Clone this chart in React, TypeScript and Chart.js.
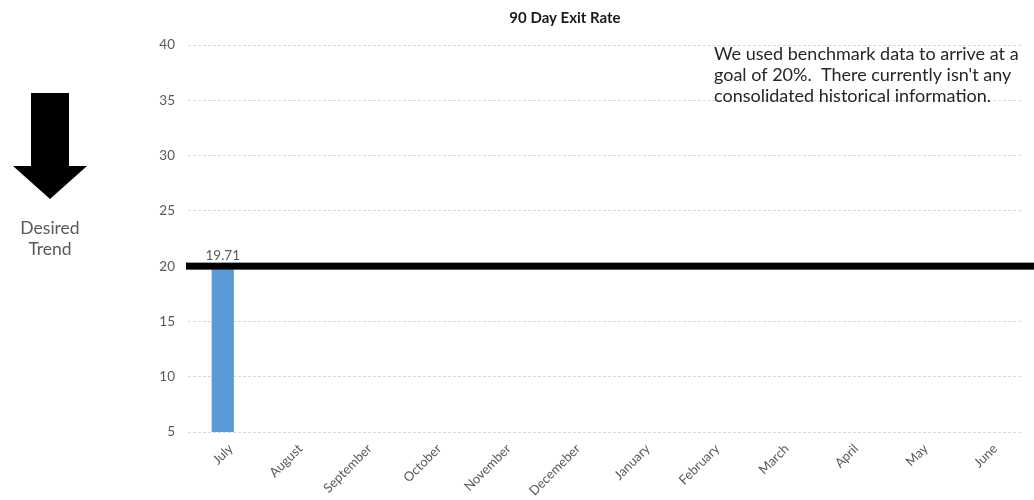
import React, { useEffect, useRef } from "react";
import { Chart, registerables } from "chart.js";

Chart.register(...registerables);

// Monthly 90-day exit rate (%), fiscal year starting in July
const months = [
  "July", "August", "September", "October", "November", "Decemeber",
  "January", "February", "March", "April", "May", "June",
];
const exitRate: (number | null)[] = [19.71, null, null, null, null, null, null, null, null, null, null, null];
const goalRate = 20;
const yTicks = [5, 10, 15, 20, 25, 30, 35, 40];

const chartTitle = "90 Day Exit Rate";
const noteLines = [
  "We used benchmark data to arrive at a",
  "goal of 20%.  There currently isn't any",
  "consolidated historical information.",
];
const trendLines = ["Desired", "Trend"];

const FONT = "Lato, 'Open Sans', sans-serif";
const TEXT_GRAY = "#595959";

// Draws the title, the note, the "desired trend" arrow, the goal line and the value label
const decorations = {
  id: "decorations",
  afterDatasetsDraw(chart: any) {
    const { ctx, chartArea, scales } = chart;
    const yGoal = scales.y.getPixelForValue(goalRate);

    ctx.save();
    // goal line
    ctx.fillStyle = "#000";
    ctx.fillRect(chartArea.left - 2, yGoal - 3.5, chart.width - chartArea.left + 2, 7);

    // value labels above the bars
    const meta = chart.getDatasetMeta(0);
    ctx.fillStyle = TEXT_GRAY;
    ctx.font = `13.5px ${FONT}`;
    ctx.textAlign = "center";
    ctx.textBaseline = "middle";
    meta.data.forEach((bar: any, i: number) => {
      const v = exitRate[i];
      if (v == null) return;
      ctx.fillText(v.toFixed(2), bar.x, yGoal - 11);
    });

    // title
    ctx.fillStyle = "#1a1a1a";
    ctx.font = `bold 15px ${FONT}`;
    ctx.fillText(chartTitle, 565, 18);

    // note
    ctx.fillStyle = "#262626";
    ctx.font = `18px ${FONT}`;
    ctx.textAlign = "left";
    noteLines.forEach((line, i) => ctx.fillText(line, 714, 54 + i * 21));

    // desired-trend arrow
    ctx.fillStyle = "#000";
    ctx.beginPath();
    ctx.moveTo(31, 93);
    ctx.lineTo(69, 93);
    ctx.lineTo(69, 166);
    ctx.lineTo(87, 166);
    ctx.lineTo(50, 199);
    ctx.lineTo(13, 166);
    ctx.lineTo(31, 166);
    ctx.closePath();
    ctx.fill();

    ctx.fillStyle = TEXT_GRAY;
    ctx.font = `17.5px ${FONT}`;
    ctx.textAlign = "center";
    trendLines.forEach((line, i) => ctx.fillText(line, 50, 228 + i * 21));
    ctx.restore();
  },
};

export default function App() {
  const canvasRef = useRef<HTMLCanvasElement>(null);

  useEffect(() => {
    if (!canvasRef.current) return;
    const chart = new Chart(canvasRef.current, {
      type: "bar",
      data: {
        labels: months,
        datasets: [
          {
            label: "90 Day Exit Rate",
            data: exitRate,
            backgroundColor: "#5B9BD5",
            barPercentage: 0.32,
            categoryPercentage: 1,
          },
        ],
      },
      options: {
        animation: false,
        responsive: true,
        maintainAspectRatio: false,
        layout: { padding: { top: 45, right: 12, left: 0, bottom: 0 } },
        plugins: {
          legend: { display: false },
          title: { display: false },
          tooltip: { enabled: false },
        },
        scales: {
          x: {
            grid: { display: false },
            border: { display: false },
            ticks: {
              color: TEXT_GRAY,
              font: { family: FONT, size: 13 },
              minRotation: 45,
              maxRotation: 45,
              labelOffset: 8,
              padding: 1,
            },
            afterFit: (scale: any) => {
              scale.height = 68;
            },
          },
          y: {
            min: 5,
            max: 40,
            afterBuildTicks: (scale: any) => {
              scale.ticks = yTicks.map((v) => ({ value: v }));
            },
            grid: { color: "#d9d9d9", drawTicks: false, lineWidth: 1 },
            border: { display: false, dash: [3, 2] },
            ticks: {
              color: TEXT_GRAY,
              font: { family: FONT, size: 13.5 },
              padding: 13,
            },
            afterFit: (scale: any) => {
              scale.width = 188;
            },
          },
        },
      },
      plugins: [decorations],
    });
    return () => chart.destroy();
  }, []);

  return (
    <div style={{ position: "fixed", left: 0, top: 0, width: 1034, height: 500, background: "#fff" }}>
      <canvas ref={canvasRef} />
    </div>
  );
}
